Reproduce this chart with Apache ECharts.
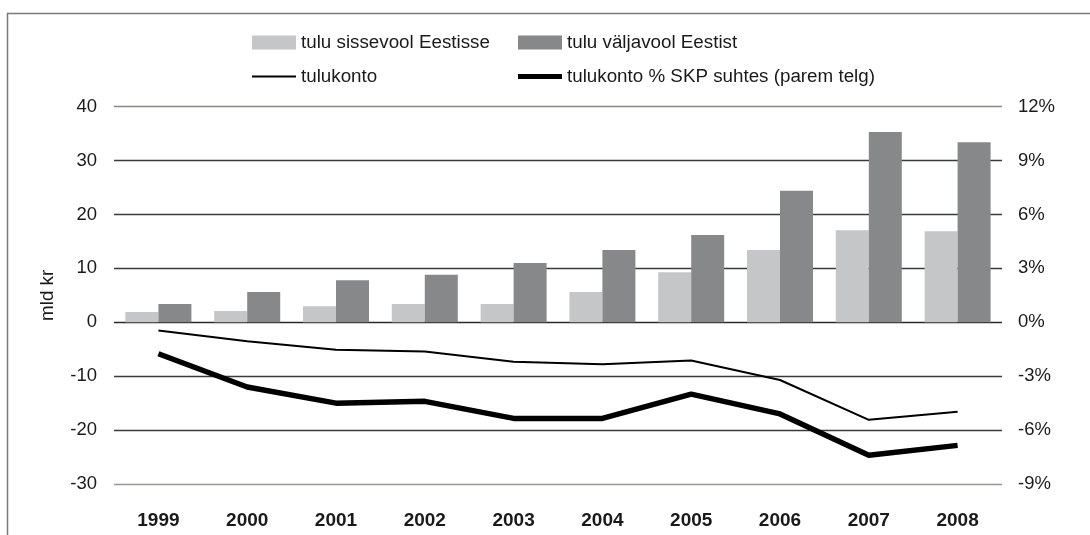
<!DOCTYPE html>
<html lang="et">
<head>
    <meta charset="UTF-8">
    <title>Tulukonto</title>
    <script src="https://cdn.jsdelivr.net/npm/echarts@6/dist/echarts.min.js"></script>
</head>
<style>
    html, body {
        margin: 0;
        height: 100%;
        background: #fff;
    }
</style>
<body>
<div id="main" style="width: 1090px;height:535px"></div>
<script type="text/javascript">
    // andmed
    var aastad = ['1999', '2000', '2001', '2002', '2003', '2004', '2005', '2006', '2007', '2008'];
    var sissevool = [1.9, 2.1, 3.0, 3.4, 3.4, 5.6, 9.3, 13.4, 17.1, 16.9];
    var valjavool = [3.4, 5.6, 7.8, 8.8, 11.0, 13.4, 16.2, 24.4, 35.3, 33.4];
    var tulukonto = [-1.5, -3.5, -5.1, -5.4, -7.3, -7.8, -7.1, -10.7, -18.1, -16.6];
    var tulukontoSKP = [-1.75, -3.6, -4.5, -4.4, -5.35, -5.35, -4.0, -5.1, -7.4, -6.85];

    var font = 'Liberation Sans, Arial, Helvetica, sans-serif';
    var txt = {fontFamily: font, fontSize: 18.8, color: '#1a1a1a'};

    var myChart = echarts.init(document.getElementById('main'));

    function legendBox(name, left, top, h) {
        return {
            data: [name],
            left: left,
            top: top,
            icon: 'rect',
            itemWidth: 44,
            itemHeight: h,
            itemGap: 0,
            padding: 0,
            selectedMode: false,
            textStyle: txt
        };
    }

    var option = {
        animation: false,
        backgroundColor: '#fff',
        graphic: [{
            type: 'rect',
            shape: {x: 7.5, y: 13.5, width: 1200, height: 700},
            style: {fill: 'none', stroke: '#7a7a7a', lineWidth: 1.5},
            silent: true
        }],
        legend: [
            legendBox('tulu sissevool Eestisse', 252, 33, 14),
            legendBox('tulu väljavool Eestist', 518, 33, 14),
            legendBox('tulukonto', 252, 67, 2),
            legendBox('tulukonto % SKP suhtes (parem telg)', 518, 67, 5)
        ],
        grid: {left: 114, right: 88, top: 106.7, bottom: 51},
        xAxis: {
            type: 'category',
            data: aastad,
            axisLine: {show: false},
            axisTick: {show: false},
            axisLabel: {fontFamily: font, fontSize: 19, fontWeight: 'bold', color: '#1a1a1a', margin: 27}
        },
        yAxis: [{
            type: 'value',
            min: -30,
            max: 40,
            interval: 10,
            name: 'mld kr',
            nameLocation: 'middle',
            nameGap: 57,
            nameTextStyle: txt,
            axisLine: {show: false},
            axisTick: {show: false},
            axisLabel: {fontFamily: font, fontSize: 18.5, color: '#1a1a1a', margin: 17},
            splitLine: {
                lineStyle: {
                    color: ['#9a9690', '#3a3a3a', '#3a3a3a', '#2a2a2a', '#3a3a3a', '#3a3a3a', '#3a3a3a', '#8a8680'],
                    width: 1.3
                }
            }
        }, {
            type: 'value',
            min: -9,
            max: 12,
            interval: 3,
            position: 'right',
            axisLine: {show: false},
            axisTick: {show: false},
            axisLabel: {fontFamily: font, fontSize: 18.5, color: '#1a1a1a', margin: 16, formatter: '{value}%'},
            splitLine: {show: false}
        }],
        series: [{
            name: 'tulu sissevool Eestisse',
            type: 'bar',
            data: sissevool,
            barWidth: 33,
            barGap: '0%',
            itemStyle: {color: '#c5c6c8'}
        }, {
            name: 'tulu väljavool Eestist',
            type: 'bar',
            data: valjavool,
            barWidth: 33,
            barGap: '0%',
            itemStyle: {color: '#87888a'}
        }, {
            name: 'tulukonto',
            type: 'line',
            data: tulukonto,
            symbol: 'none',
            itemStyle: {color: '#000'},
            lineStyle: {color: '#000', width: 2}
        }, {
            name: 'tulukonto % SKP suhtes (parem telg)',
            type: 'line',
            yAxisIndex: 1,
            data: tulukontoSKP,
            symbol: 'none',
            itemStyle: {color: '#000'},
            lineStyle: {color: '#000', width: 5.5}
        }]
    };
    myChart.setOption(option);
</script>
</body>
</html>
